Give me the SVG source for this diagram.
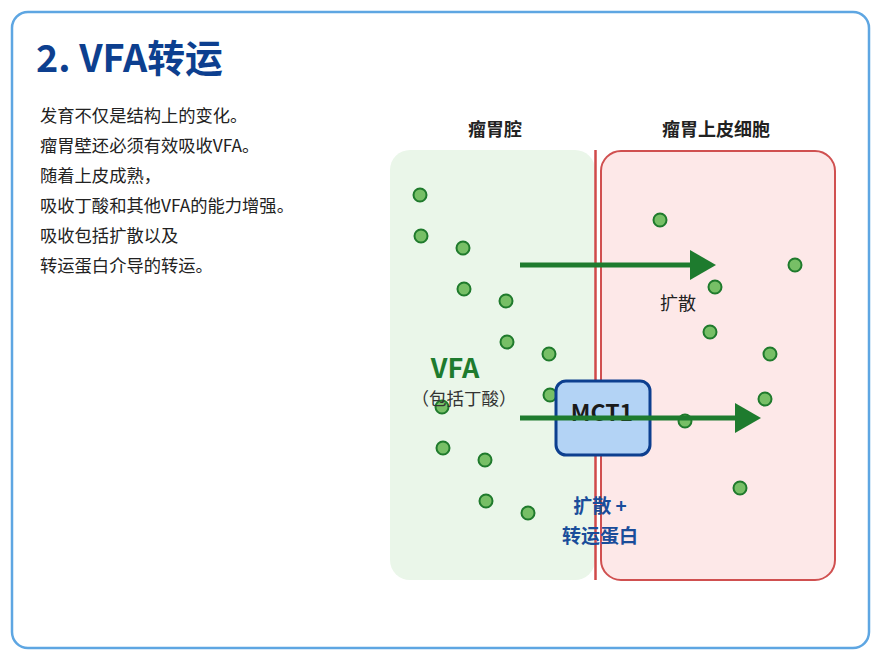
<svg xmlns="http://www.w3.org/2000/svg" width="880" height="660" viewBox="0 0 880 660">
<defs>
<style>
text{font-family:"Noto Sans CJK SC","Noto Sans",sans-serif}
.body{font-size:17.3px;fill:#222}
.hdr{font-size:18px;font-weight:bold;fill:#222;text-anchor:middle}
.dot{fill:#77bf66;stroke:#1f7a2c;stroke-width:2}
.arr{stroke:#1e7b2e;stroke-width:5;fill:none}
.head{fill:#1e7b2e}
.blue{font-size:19px;font-weight:bold;fill:#1a4d9a;text-anchor:middle}
</style>
</defs>
<rect x="0" y="0" width="880" height="660" fill="#ffffff"/>
<rect x="12" y="12" width="857" height="636" rx="16" fill="#ffffff" stroke="#5ea6e2" stroke-width="2.5"/>
<text x="36" y="72" font-size="37.8" font-weight="bold" fill="#0d3f8f" style="font-size:37.8px">2. VFA转运</text>
<g id="description">
<text class="body" x="40" y="122">发育不仅是结构上的变化。</text>
<text class="body" x="40" y="152">瘤胃壁还必须有效吸收VFA。</text>
<text class="body" x="40" y="182">随着上皮成熟，</text>
<text class="body" x="40" y="212">吸收丁酸和其他VFA的能力增强。</text>
<text class="body" x="40" y="242">吸收包括扩散以及</text>
<text class="body" x="40" y="272">转运蛋白介导的转运。</text>
</g>
<g id="lumen">
<rect x="390" y="150" width="205" height="430" rx="20" fill="#eaf6e9"/>
<text class="hdr" x="495" y="136">瘤胃腔</text>
</g>
<g id="epithelium">
<rect x="601" y="151" width="234" height="429" rx="20" fill="#fde8e8" stroke="#d05050" stroke-width="2"/>
<text class="hdr" x="716" y="136">瘤胃上皮细胞</text>
</g>
<g id="membrane">
<line x1="595.5" y1="150" x2="595.5" y2="580" stroke="#d04a4a" stroke-width="2.5"/>
</g>
<g id="vfa-particles">
<circle class="dot" cx="420" cy="195" r="6.5"/>
<circle class="dot" cx="421" cy="236" r="6.5"/>
<circle class="dot" cx="463" cy="248" r="6.5"/>
<circle class="dot" cx="464" cy="289" r="6.5"/>
<circle class="dot" cx="506" cy="301" r="6.5"/>
<circle class="dot" cx="507" cy="342" r="6.5"/>
<circle class="dot" cx="549" cy="354" r="6.5"/>
<circle class="dot" cx="550" cy="395" r="6.5"/>
<circle class="dot" cx="442" cy="407" r="6.5"/>
<circle class="dot" cx="443" cy="448" r="6.5"/>
<circle class="dot" cx="485" cy="460" r="6.5"/>
<circle class="dot" cx="486" cy="501" r="6.5"/>
<circle class="dot" cx="528" cy="513" r="6.5"/>
<circle class="dot" cx="660" cy="220" r="6.5"/>
<circle class="dot" cx="795" cy="265" r="6.5"/>
<circle class="dot" cx="715" cy="287" r="6.5"/>
<circle class="dot" cx="710" cy="332" r="6.5"/>
<circle class="dot" cx="770" cy="354" r="6.5"/>
<circle class="dot" cx="765" cy="399" r="6.5"/>
<circle class="dot" cx="685" cy="421" r="6.5"/>
<circle class="dot" cx="740" cy="488" r="6.5"/>
</g>
<g id="vfa-label">
<text x="455" y="378" font-size="27" font-weight="bold" fill="#1e7b2e" text-anchor="middle" style="font-size:27px">VFA</text>
<text x="464" y="405" font-size="17.5" fill="#333" text-anchor="middle" style="font-size:17.5px">（包括丁酸）</text>
</g>
<g id="mct1">
<rect x="556" y="381" width="94" height="74" rx="10" fill="#b3d3f5" stroke="#0d3f8f" stroke-width="3"/>
<text x="602" y="421" font-size="23" font-weight="bold" fill="#1a1a1a" text-anchor="middle" style="font-size:23px">MCT1</text>
</g>
<g id="connectors">
<line class="arr" x1="520" y1="265" x2="694" y2="265"/>
<polygon class="head" points="690,250 716,265 690,280"/>
<line class="arr" x1="520" y1="418" x2="739" y2="418"/>
<polygon class="head" points="735,403 761,418 735,433"/>
</g>
<g id="labels">
<text x="678" y="310" font-size="18" fill="#222" text-anchor="middle" style="font-size:18px">扩散</text>
<text class="blue" x="600" y="513">扩散 +</text>
<text class="blue" x="600" y="543">转运蛋白</text>
</g>
</svg>
